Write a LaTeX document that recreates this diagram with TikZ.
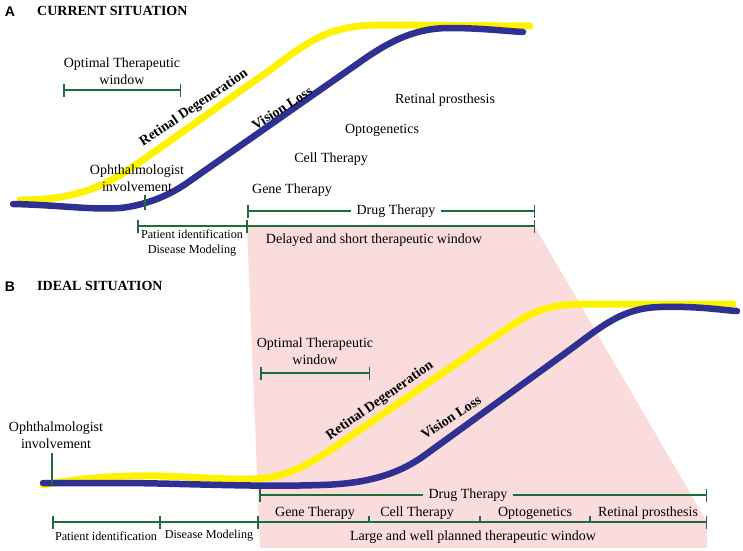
\documentclass[tikz,border=0pt]{standalone}
\usepackage{fontspec}
\setmainfont{Liberation Serif}
\newfontfamily\panelfont{Liberation Sans}
\usepackage{xcolor}
\usetikzlibrary{
    arrows.meta
}
\definecolor{barGreen}{HTML}{1E6B3C}
\definecolor{lossBlue}{HTML}{2E3192}
\definecolor{degYellow}{HTML}{FFF200}
\definecolor{windowPink}{HTML}{FBDCDC}

\begin{document}
\begin{tikzpicture}[x=1pt, y=-1pt,
        every node/.style={inner sep=0pt, font=\fontsize{14}{17}\selectfont},
        smalltxt/.style={font=\fontsize{12.2}{15.5}\selectfont},
        curvetxt/.style={font=\fontsize{14}{17}\selectfont\bfseries},
        spanbar/.style={barGreen, line width=1.5pt, {Bar[width=13pt]}-{Bar[width=13pt]}},
        tickmark/.style={barGreen, line width=1.5pt},
        yellowline/.style={degYellow, line width=7pt, line cap=round},
        blueline/.style={lossBlue, line width=6.5pt, line cap=round}]
            \useasboundingbox (0,0) rectangle (743,550);

            % therapeutic window (pink)
            \fill[windowPink] (247,227) -- (535,227) -- (707,522) -- (707,548) -- (260,548) -- cycle;

            % A: current situation
            \node (panelA) at (10,12) {\panelfont\bfseries A};
            \node[anchor=west] (headA) at (37,11) {\bfseries CURRENT SITUATION};

            \draw[yellowline] (20,200) .. controls (75,200) and (105,187) .. (140,162) -- (270,70)
                .. controls (310,40) and (330,25) .. (380,25) -- (530,26);
            \draw[blueline] (13,204) .. controls (60,205) and (90,210) .. (120,208)
                .. controls (140,206) and (165,198.4) .. (187,183) -- (360,62)
                .. controls (395,37) and (420,28) .. (450,28) .. controls (480,28) and (505,31) .. (523,32);

            \node[curvetxt, rotate=34] (degA) at (194,108) {Retinal Degeneration};
            \node[curvetxt, rotate=32] (lossA) at (282,108) {Vision Loss};

            \node[align=center] (optA) at (122,71.5) {Optimal Therapeutic\\window};
            \draw[spanbar] (63,90) -- (181,90);

            \node[align=center] (ophA) at (137,178.5) {Ophthalmologist\\involvement};
            \draw[tickmark] (145,195) -- (145,210);

            \node (geneA) at (292,190) {Gene Therapy};
            \node (cellA) at (331,159) {Cell Therapy};
            \node (optoA) at (382,130) {Optogenetics};
            \node (prosA) at (445,100) {Retinal prosthesis};

            \node[inner xsep=5pt] (drugA) at (396,211) {Drug Therapy};
            \draw[tickmark, {Bar[width=13pt]}-] (247,211) -- (drugA.west);
            \draw[tickmark, -{Bar[width=13pt]}] (drugA.east) -- (535,211);

            \draw[spanbar] (137,226) -- (535,226);
            \draw[tickmark] (247,219.5) -- (247,232.5);
            \node[smalltxt, align=center] (patA) at (192,243) {Patient identification\\Disease Modeling};
            \node (delayA) at (374,240) {Delayed and short therapeutic window};

            % B: ideal situation
            \node (panelB) at (10,287) {\panelfont\bfseries B};
            \node[anchor=west] (headB) at (37,286) {\bfseries IDEAL SITUATION};

            \draw[yellowline] (43,485) .. controls (80,478) and (120,475) .. (160,476)
                .. controls (200,477) and (240,481) .. (265,478) .. controls (290,475) and (313,462) .. (335,447)
                -- (505,330) .. controls (530,313) and (545,305) .. (580,304) -- (733,304);
            \draw[blueline] (43,483) -- (130,483) .. controls (200,484) and (260,487) .. (320,485)
                .. controls (360,484) and (395,477) .. (425,455) -- (560,357)
                .. controls (600,328) and (620,308) .. (660,307) .. controls (700,306) and (720,310) .. (737,311);

            \node[curvetxt, rotate=35] (degB) at (380,401) {Retinal Degeneration};
            \node[curvetxt, rotate=33] (lossB) at (451,417) {Vision Loss};

            \node[align=center] (optB) at (315,351.5) {Optimal Therapeutic\\window};
            \draw[spanbar] (260,373) -- (370,373);

            \node[align=center] (ophB) at (56,435) {Ophthalmologist\\involvement};
            \draw[tickmark] (52,453) -- (52,485);

            \node[inner xsep=5pt] (drugB) at (468,495) {Drug Therapy};
            \draw[tickmark, {Bar[width=13pt]}-] (259,495) -- (drugB.west);
            \draw[tickmark, -{Bar[width=13pt]}] (drugB.east) -- (707,495);

            \node (geneB) at (315,513) {Gene Therapy};
            \node (cellB) at (417,513) {Cell Therapy};
            \node (optoB) at (535,513) {Optogenetics};
            \node (prosB) at (648,513) {Retinal prosthesis};

            \draw[spanbar] (52,522) -- (707,522);
            \draw[tickmark] (160,515.5) -- (160,528.5);
            \draw[tickmark] (258,515.5) -- (258,528.5);
            \draw[tickmark] (369,516) -- (369,522);
            \draw[tickmark] (480,516) -- (480,522);
            \draw[tickmark] (590,516) -- (590,522);

            \node[smalltxt] (patB) at (106,536) {Patient identification};
            \node[smalltxt] (disB) at (209,536) {Disease Modeling};
            \node (largeB) at (473,537) {Large and well planned therapeutic window};
\end{tikzpicture}
\end{document}
